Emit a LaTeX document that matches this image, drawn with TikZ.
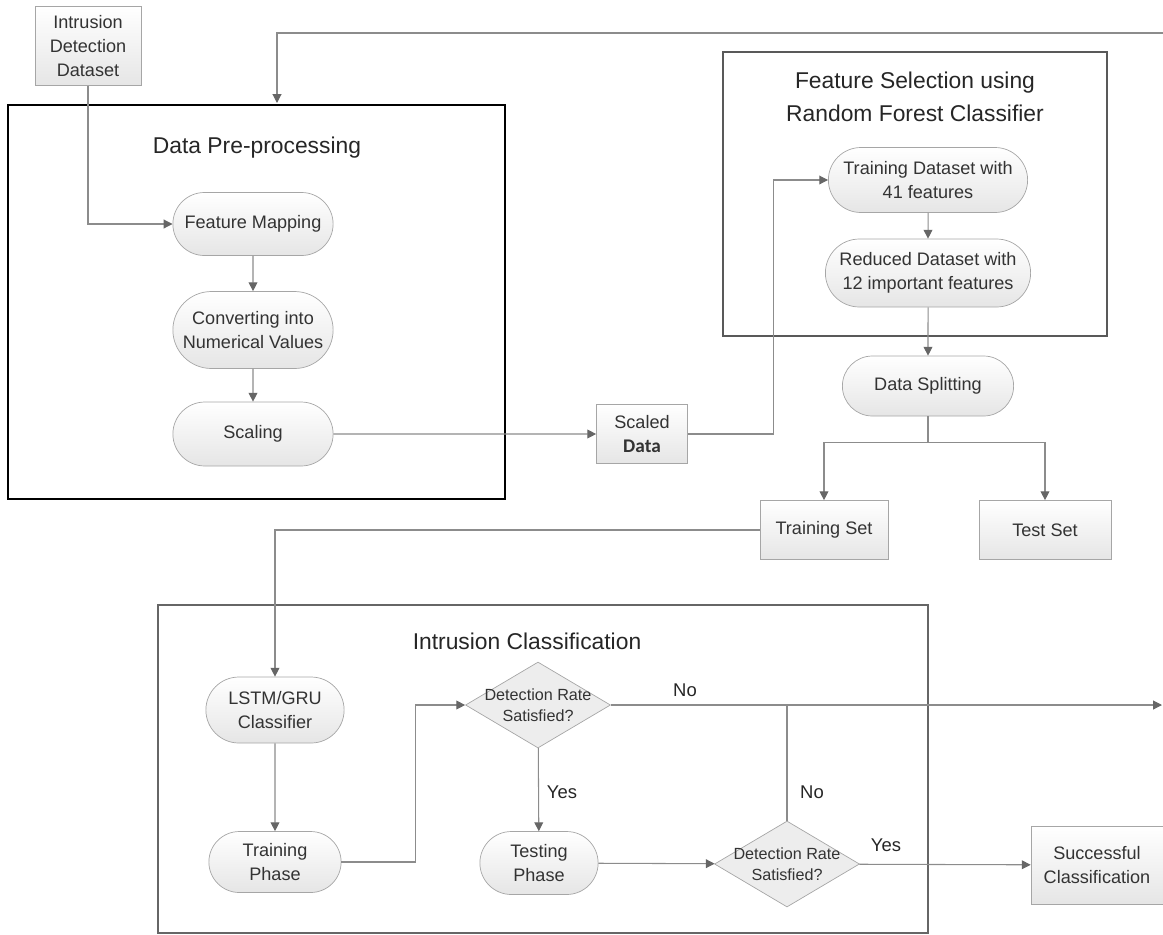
\documentclass[tikz,border=0pt]{standalone}
\usepackage{fontspec}
\setmainfont{Liberation Sans}
\newfontfamily\calibri{Carlito}
\usepackage{xcolor}
\usepackage{tikz}
\usetikzlibrary{shapes.geometric, shapes.misc, arrows.meta, positioning}

\begin{document}
\begin{tikzpicture}[x=0.02cm, y=-0.02cm,
    proc/.style={rounded rectangle, draw=black!35, top color=white, bottom color=black!10, minimum width=3.44cm, minimum height=1.26cm, align=center, text=black!80, font=\fontsize{10.3}{13.6}\selectfont},
    databox/.style={rectangle, draw=black!35, top color=white, bottom color=black!10, align=center, text=black!80, font=\fontsize{10.3}{13.6}\selectfont},
    decision/.style={diamond, draw=black!35, fill=black!7, minimum width=2.9cm, minimum height=1.72cm, inner sep=0pt},
    dectext/.style={align=center, text=black!80, font=\fontsize{9.2}{12}\selectfont},
    group/.style={rectangle, line width=1.6pt, inner sep=0pt},
    title/.style={align=center, text=black!85, font=\fontsize{13}{18.7}\selectfont},
    lbl/.style={text=black!85, font=\fontsize{10.5}{12}\selectfont},
    link/.style={draw=black!45, line width=0.6pt},
    flow/.style={link, -{Triangle[length=5pt, width=5pt, color=black!60]}}]

    \useasboundingbox (0,0) rectangle (1163,934);

    % Input dataset
    \node[databox, minimum width=2.12cm, minimum height=1.58cm] (ids) at (88,46) {Intrusion\\Detection\\Dataset};

    % Data pre-processing
    \node[group, draw=black, minimum width=9.94cm, minimum height=7.88cm] (prebox) at (256.5,302) {};
    \node[title] at (257,148) {Data Pre-processing};
    \node[proc] (fmap) at (253,224) {Feature Mapping};
    \node[proc, minimum height=1.54cm] (conv) at (253,330) {Converting into\\Numerical Values};
    \node[proc, minimum height=1.28cm] (scal) at (253,434) {Scaling};
    \node[databox, minimum width=1.82cm, minimum height=1.18cm] (sdata) at (642,434) {Scaled\\{\calibri\fontsize{11}{13.6}\selectfont\bfseries Data}};

    \draw[flow] (ids.south) |- (fmap.west);
    \draw[flow] (fmap) -- (conv); \draw[flow] (conv) -- (scal);
    \draw[flow] (scal) -- (sdata);

    % Feature selection
    \node[group, draw=black!65, minimum width=7.68cm, minimum height=5.68cm] (fsbox) at (915,194) {};
    \node[title] at (915,97) {Feature Selection using\\Random Forest Classifier};
    \node[proc, minimum width=4.22cm, minimum height=1.3cm] (tr41) at (928,180) {Training Dataset with\\41 features};
    \node[proc, minimum width=4.34cm, minimum height=1.36cm] (red12) at (928,273) {Reduced Dataset with\\12 important features};
    \node[proc, minimum width=3.66cm, minimum height=1.2cm] (split) at (928,386) {Data Splitting};
    \node[databox, minimum width=2.56cm, minimum height=1.18cm] (trset) at (824,530) {Training Set};
    \node[databox, minimum width=2.64cm, minimum height=1.18cm] (teset) at (1045,530) {Test Set};

    \draw[flow] (sdata.east) -- ++(86,0) |- (tr41.west);
    \draw[flow] (tr41) -- (red12); \draw[flow] (red12) -- (split);
    \draw[link] (split.south) -- ++(0,26) coordinate (fork);
    \draw[flow] (fork) -| (trset.north); \draw[flow] (fork) -| (teset.north);

    % Intrusion classification
    \node[group, draw=black!60, line width=1.2pt, minimum width=15.4cm, minimum height=6.56cm] (icbox) at (543,769) {};
    \node[title] at (527,641) {Intrusion Classification};
    \node[proc, minimum width=3cm, minimum height=1.32cm] (lstm) at (275,710) {LSTM/GRU\\Classifier};
    \node[proc, minimum width=2.88cm, minimum height=1.22cm] (trph) at (275,862) {Training\\Phase};
    \node[decision, label={[dectext]center:{Detection Rate\\Satisfied?}}] (dec1) at (538,705) {};
    \node[proc, minimum width=2.6cm, minimum height=1.26cm] (teph) at (539,863) {Testing\\Phase};
    \node[decision, label={[dectext]center:{Detection Rate\\Satisfied?}}] (dec2) at (787,864) {};
    \node[databox, minimum width=2.64cm, minimum height=1.56cm] (succ) at (1097,865) {Successful\\Classification};
    \coordinate (noOut) at (1162,705);
    \coordinate (loopIn) at (1163,33);
    \coordinate (preIn) at (277,103);

    \draw[flow] (trset.west) -| (lstm.north);
    \draw[flow] (lstm) -- (trph);
    \draw[flow] (trph.east) -- ++(74,0) |- (dec1.west);
    \draw[flow] (dec1) -- (teph);
    \node[lbl] at (562,792) {Yes};
    \draw[flow] (dec1.east) -- (noOut);
    \node[lbl] at (685,690) {No};
    \draw[flow] (teph) -- (dec2);
    \draw[link] (dec2.north) -- (dec2.north |- dec1.east);
    \node[lbl] at (812,792) {No};
    \draw[flow] (dec2) -- (succ);
    \node[lbl] at (886,845) {Yes};

    % feedback loop
    \draw[flow] (loopIn) -| (preIn);
\end{tikzpicture}
\end{document}
